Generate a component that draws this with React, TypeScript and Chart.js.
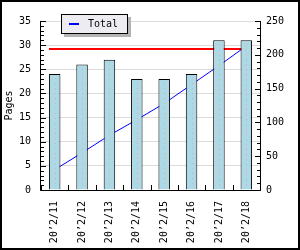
import React, { useEffect, useRef } from 'react';
import { Chart, registerables } from 'chart.js';

Chart.register(...registerables);

const categories = ["20’2/11", "20’2/12", "20’2/13", "20’2/14", "20’2/15", "20’2/16", "20’2/17", "20’2/18"];
const pages = [24, 26, 27, 23, 23, 24, 31, 31];
const totalLine = [30, 55, 81, 104, 128, 156, 184, 213];
const totalMark = 209;
const leftAxis = { min: 0, max: 35, step: 5, minorStep: 1 };
const rightAxis = { min: 0, max: 250, step: 50, minorStep: 10 };
const seriesName = "Total";
const axisTitle = "Pages";

const FONT = "'DejaVu Sans Mono', monospace";

const decor = {
  id: 'decor',
  beforeDatasetsDraw(chart: any) {
    const ctx = chart.ctx;
    const meta = chart.getDatasetMeta(0);
    const first = meta.data[0];
    const last = meta.data[meta.data.length - 1];
    const y = Math.round(chart.scales.y1.getPixelForValue(totalMark));
    ctx.save();
    ctx.strokeStyle = '#ff0000';
    ctx.lineWidth = 2;
    ctx.beginPath();
    ctx.moveTo(Math.round(first.x - first.width / 2), y);
    ctx.lineTo(Math.round(last.x + last.width / 2), y);
    ctx.stroke();
    ctx.restore();
  },
  afterDatasetsDraw(chart: any) {
    const ctx = chart.ctx;
    const area = chart.chartArea;
    const meta = chart.getDatasetMeta(0);
    ctx.save();
    // dotted centre lines in bars
    ctx.strokeStyle = '#e4a898';
    ctx.lineWidth = 1;
    ctx.setLineDash([1, 4]);
    meta.data.forEach((bar: any) => {
      const x = Math.round(bar.x) + 0.5;
      ctx.beginPath();
      ctx.moveTo(x, bar.y + 4);
      ctx.lineTo(x, bar.base - 1);
      ctx.stroke();
    });
    ctx.setLineDash([]);
    // axis lines
    ctx.strokeStyle = '#000';
    ctx.lineWidth = 1;
    const L = Math.round(area.left) - 0.5;
    const R = Math.round(area.right) + 0.5;
    const B = Math.round(area.bottom) + 0.5;
    ctx.beginPath();
    ctx.moveTo(L, Math.round(area.top));
    ctx.lineTo(L, B);
    ctx.lineTo(R, B);
    ctx.lineTo(R, Math.round(area.top));
    ctx.stroke();
    // left ticks (inward)
    const ys = chart.scales.y;
    ctx.beginPath();
    for (let v = leftAxis.min; v <= leftAxis.max; v += leftAxis.minorStep) {
      const py = Math.round(ys.getPixelForValue(v)) + 0.5;
      const len = v % leftAxis.step === 0 ? 5 : 3;
      ctx.moveTo(L, py);
      ctx.lineTo(L + len + 0.5, py);
    }
    // right ticks (inward)
    const yr = chart.scales.y1;
    for (let v = rightAxis.min; v <= rightAxis.max; v += rightAxis.minorStep) {
      const py = Math.round(yr.getPixelForValue(v)) + 0.5;
      const len = v % rightAxis.step === 0 ? 5 : 3;
      ctx.moveTo(R, py);
      ctx.lineTo(R - len - 0.5, py);
    }
    // bottom ticks at category boundaries
    const xs = chart.scales.x;
    for (let i = 0; i <= categories.length; i++) {
      const px = Math.round(xs.getPixelForValue(i - 0.5)) + 0.5;
      ctx.moveTo(px, B);
      ctx.lineTo(px, B - 5.5);
    }
    ctx.stroke();
    ctx.restore();
  },
  afterDraw(chart: any) {
    const ctx = chart.ctx;
    ctx.save();
    // legend
    const bx = 61, by = 14, bw = 67, bh = 20;
    ctx.fillStyle = '#b4b4b4';
    ctx.fillRect(bx + 3, by + 3, bw, bh);
    ctx.fillStyle = '#edecf2';
    ctx.fillRect(bx, by, bw, bh);
    ctx.strokeStyle = '#000';
    ctx.lineWidth = 1;
    ctx.strokeRect(bx + 0.5, by + 0.5, bw - 1, bh - 1);
    ctx.strokeStyle = '#0000ff';
    ctx.lineWidth = 2;
    ctx.beginPath();
    ctx.moveTo(69, by + 10);
    ctx.lineTo(79, by + 10);
    ctx.stroke();
    ctx.fillStyle = '#000';
    ctx.font = `10px ${FONT}`;
    ctx.textBaseline = 'middle';
    ctx.textAlign = 'left';
    ctx.fillText(seriesName, 88, by + 10);
    // frame
    ctx.strokeStyle = '#000';
    ctx.lineWidth = 2;
    ctx.strokeRect(1, 1, chart.width - 2, chart.height - 2);
    ctx.restore();
  },
};

export default function App() {
  const ref = useRef<HTMLCanvasElement | null>(null);
  useEffect(() => {
    if (!ref.current) return;
    const chart = new Chart(ref.current, {
      type: 'bar',
      data: {
        labels: categories,
        datasets: [
          {
            type: 'bar',
            label: axisTitle,
            data: pages,
            yAxisID: 'y',
            backgroundColor: '#add8e6',
            borderColor: '#000',
            borderWidth: 1,
            categoryPercentage: 1,
            barPercentage: 0.42,
            order: 0,
          },
          {
            type: 'line',
            label: seriesName,
            data: totalLine,
            yAxisID: 'y1',
            borderColor: '#0000ff',
            borderWidth: 1,
            pointRadius: 0,
            tension: 0,
            fill: false,
            order: 1,
          },
        ],
      } as any,
      options: {
        animation: false,
        responsive: false,
        devicePixelRatio: 1,
        layout: { padding: { top: 21, left: 0, right: 0, bottom: 0 } },
        plugins: { legend: { display: false }, tooltip: { enabled: false }, title: { display: false } },
        scales: {
          x: {
            offset: true,
            grid: { display: false, drawTicks: false },
            border: { display: false },
            ticks: {
              autoSkip: false,
              maxRotation: 90,
              minRotation: 90,
              padding: 11,
              color: '#000',
              font: { family: FONT, size: 10 },
            },
            afterFit: (s: any) => { s.height = 60; },
          },
          y: {
            position: 'left',
            min: leftAxis.min,
            max: leftAxis.max,
            ticks: { stepSize: leftAxis.step, padding: 10, color: '#000', font: { family: FONT, size: 10 } },
            grid: { color: '#dcdcdc', drawTicks: false },
            border: { display: false },
            title: { display: true, text: axisTitle, color: '#000', font: { family: FONT, size: 10 }, padding: { top: 3, bottom: 0 } },
            afterFit: (s: any) => { s.width = 41; },
          },
          y1: {
            position: 'right',
            min: rightAxis.min,
            max: rightAxis.max,
            ticks: { stepSize: rightAxis.step, padding: 6, color: '#000', font: { family: FONT, size: 10 } },
            grid: { display: false, drawTicks: false },
            border: { display: false },
            afterFit: (s: any) => { s.width = 40; },
          },
        },
      } as any,
      plugins: [decor],
    });
    return () => chart.destroy();
  }, []);
  return (
    <div style={{ position: 'fixed', left: 0, top: 0, width: 300, height: 250, background: '#fff' }}>
      <canvas ref={ref} width={300} height={250} style={{ display: 'block' }} />
    </div>
  );
}
